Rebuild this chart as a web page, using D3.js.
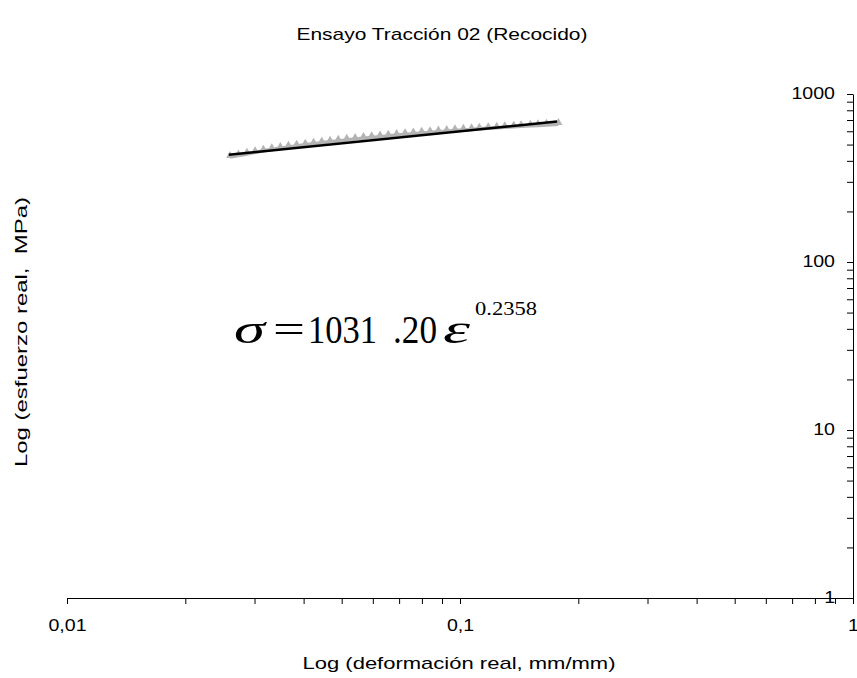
<!DOCTYPE html>
<html><head><meta charset="utf-8">
<script src="https://cdn.jsdelivr.net/npm/d3@7"></script>
<style>body{margin:0;background:#fff}</style></head>
<body>
<svg id="c" width="857" height="678"></svg>
<script>
// measured data (true strain, true stress MPa)
const strain = [0.026,0.0273,0.0287,0.0301,0.0316,0.0332,0.0349,0.0366,0.0384,0.0404,
  0.0424,0.0445,0.0467,0.0490,0.0515,0.0541,0.0568,0.0596,0.0626,0.0657,
  0.0690,0.0725,0.0761,0.0799,0.0839,0.0881,0.0925,0.0971,0.102,0.107,
  0.112,0.118,0.124,0.130,0.137,0.143,0.151,0.158,0.166,0.178];
const stress = [420.8,430.1,439.5,449.1,458.9,467.4,475.7,483.6,491.1,498.2,
  505.4,512.3,519.2,525.7,532.4,539.0,545.3,551.6,557.4,563.3,
  569.3,574.8,580.3,585.9,591.0,596.0,601.2,606.4,611.0,615.6,
  620.3,625.0,629.0,633.8,637.9,642.0,646.1,650.2,654.5,660.6];
// power-law fit line endpoints
const fitStrain = [0.0258, 0.1766];
const fitStress = [435, 685];
// tick labels
const xMajor = [0.01, 0.1, 1];
const xMajorLabels = ["0,01", "0,1", "1"];
const yMajor = [1, 10, 100, 1000];
const yMajorLabels = ["1", "10", "100", "1000"];
const minorMult = [2,3,4,5,6,7,8,9];

const svg = d3.select("#c");
const x = d3.scaleLog().domain([0.01, 1]).range([67, 853]);
const y = d3.scaleLog().domain([1, 1000]).range([598, 94]);

const xTicks = [];
xMajor.forEach((m,i)=>{ xTicks.push(m); if(i<xMajor.length-1) minorMult.forEach(k=>xTicks.push(m*k)); });
const yTicks = [];
yMajor.forEach((m,i)=>{ yTicks.push(m); if(i<yMajor.length-1) minorMult.forEach(k=>yTicks.push(m*k)); });

const fmtX = d => { const i = xMajor.findIndex(v=>Math.abs(v-d)/v<1e-9); return i>=0 ? xMajorLabels[i] : ""; };
const fmtY = d => { const i = yMajor.findIndex(v=>Math.abs(v-d)/v<1e-9); return i>=0 ? yMajorLabels[i] : ""; };

const sans = "Liberation Sans, Arial, sans-serif";
const gx = svg.append("g").attr("transform","translate(0,598)")
  .call(d3.axisBottom(x).tickValues(xTicks).tickFormat(fmtX).tickSize(6).tickSizeOuter(0).tickPadding(15));
const gy = svg.append("g").attr("transform","translate(853,0)")
  .call(d3.axisLeft(y).tickValues(yTicks).tickFormat(fmtY).tickSize(6).tickSizeOuter(0).tickPadding(12));
[gx,gy].forEach(g=>{
  g.selectAll("text").attr("font-family",sans).attr("font-size",17).attr("fill","#000");
  g.selectAll("line,path").attr("stroke","#000");
});
gy.selectAll(".tick text").attr("dy","0.25em");
[gx,gy].forEach(g=>g.selectAll(".tick text").each(function(){
  const w=this.getComputedTextLength();
  if (w>0) d3.select(this).attr("textLength", w*1.15).attr("lengthAdjust","spacingAndGlyphs");
}));

// data: gray band + triangles
const pts = strain.map((e,i)=>[e, stress[i]]);
svg.append("path").datum(pts)
  .attr("d", d3.line().x(d=>x(d[0])).y(d=>y(d[1])))
  .attr("fill","none").attr("stroke","#b4b4b4").attr("stroke-width",3.5);
svg.append("g").selectAll("path").data(pts).enter().append("path")
  .attr("transform", d=>`translate(${x(d[0])},${y(d[1])-1.5})`)
  .attr("d", d3.symbol(d3.symbolTriangle, 28))
  .attr("fill","#b4b4b4");

// fit line
svg.append("path").datum(fitStrain.map((e,i)=>[e, fitStress[i]]))
  .attr("d", d3.line().x(d=>x(d[0])).y(d=>y(d[1])))
  .attr("fill","none").attr("stroke","#000").attr("stroke-width",2.5);

// titles
svg.append("text").attr("x",442).attr("y",40).attr("text-anchor","middle")
  .attr("font-family",sans).attr("font-size",17)
  .attr("textLength",291).attr("lengthAdjust","spacingAndGlyphs").text("Ensayo Tracción 02 (Recocido)");
svg.append("text").attr("x",459).attr("y",669).attr("text-anchor","middle")
  .attr("font-family",sans).attr("font-size",17)
  .attr("textLength",313).attr("lengthAdjust","spacingAndGlyphs").text("Log (deformación real, mm/mm)");
svg.append("text").attr("transform","translate(27,332) rotate(-90)").attr("text-anchor","middle")
  .attr("font-family",sans).attr("font-size",17).attr("xml:space","preserve")
  .attr("textLength",270).attr("lengthAdjust","spacingAndGlyphs").text("Log (esfuerzo real,  MPa)");

// equation
const serif = "Liberation Serif, Times New Roman, serif";
const eq = [
  {t:"\u03C3", x:234, len:31, it:true},
  {t:"=", x:273, len:32, it:false},
  {t:"1031", x:308, len:69, it:false},
  {t:".20", x:393, len:44, it:false},
  {t:"\u03B5", x:443, len:27, it:true}
];
eq.forEach(p=>{
  svg.append("text").attr("x",p.x).attr("y",343).attr("font-family",serif).attr("font-size",41)
    .attr("font-style", p.it?"italic":"normal")
    .attr("textLength",p.len).attr("lengthAdjust","spacingAndGlyphs").text(p.t);
});
svg.append("text").attr("x",475).attr("y",315).attr("font-family",serif).attr("font-size",19)
  .attr("textLength",62).attr("lengthAdjust","spacingAndGlyphs").text("0.2358");
</script>
</body></html>
